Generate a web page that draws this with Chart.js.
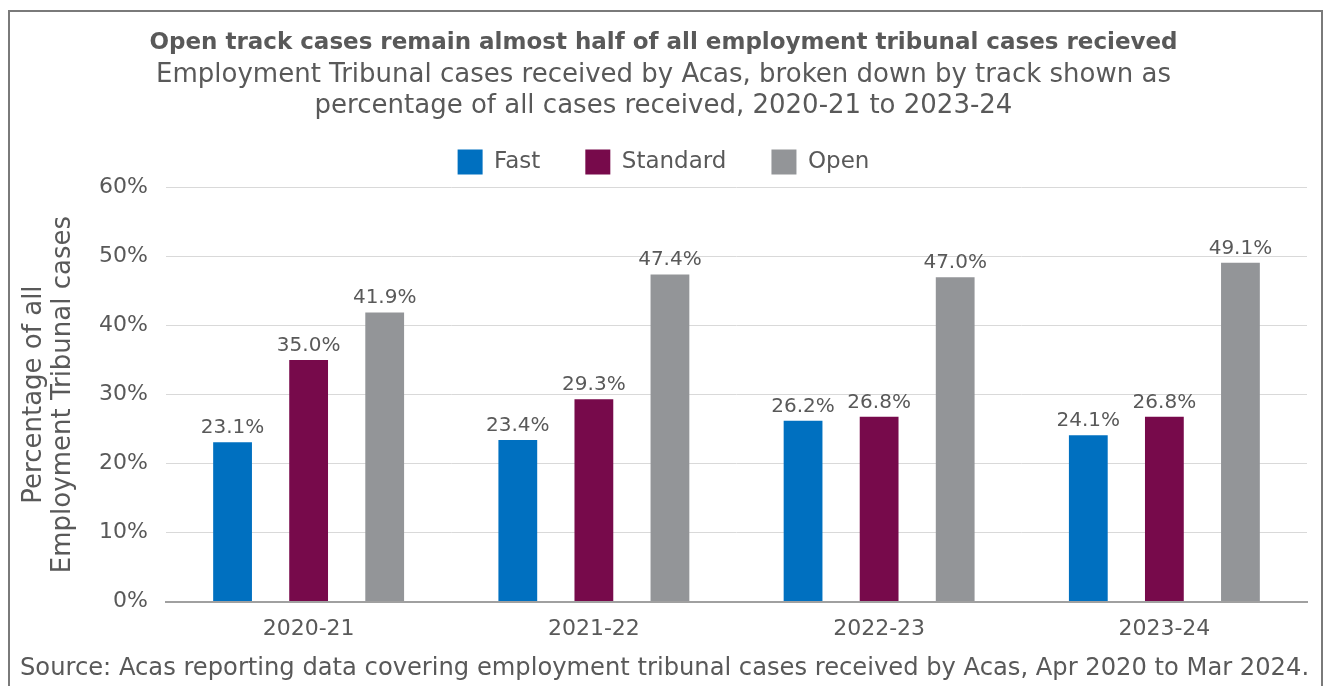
<!DOCTYPE html>
<html>
<head>
<meta charset="utf-8">
<script src="https://cdn.jsdelivr.net/npm/chart.js@4.4.1/dist/chart.umd.min.js"></script>
<style>
  html, body { margin: 0; padding: 0; background: #fff; overflow: hidden; }
  #frame {
    position: absolute; left: 8px; top: 10px; width: 1315px; height: 700px;
    border: 2px solid #7a7a7a; box-sizing: border-box;
  }
  #wrap { position: absolute; left: 0; top: 0; width: 1326px; height: 686px; }
</style>
</head>
<body>
<div id="frame"></div>
<div id="wrap"><canvas id="chart"></canvas></div>
<script>
// years along the x axis
let years = ["2020-21", "2021-22", "2022-23", "2023-24"];

// share of all cases received, by track (%)
let fast = [23.1, 23.4, 26.2, 24.1];
let standard = [35.0, 29.3, 26.8, 26.8];
let open = [41.9, 47.4, 47.0, 49.1];

let yTicks = [0, 10, 20, 30, 40, 50, 60];

let textColor = "#595959";
let fontName = "'DejaVu Sans', sans-serif";

// value labels above each bar
let barLabels = {
    id: "barLabels",
    afterDatasetsDraw(chart){
        let ctx = chart.ctx;
        ctx.save();
        ctx.font = "20px " + fontName;
        ctx.fillStyle = textColor;
        ctx.textAlign = "center";
        ctx.textBaseline = "alphabetic";
        chart.data.datasets.forEach((ds, i) => {
            chart.getDatasetMeta(i).data.forEach((bar, j) => {
                ctx.fillText(ds.data[j].toFixed(1) + "%", bar.x, bar.y - 9);
            });
        });
        ctx.restore();
    }
};

// source note at the bottom
let sourceNote = {
    id: "sourceNote",
    afterDraw(chart){
        let ctx = chart.ctx;
        ctx.save();
        ctx.font = "24.2px " + fontName;
        ctx.fillStyle = textColor;
        ctx.textAlign = "left";
        ctx.textBaseline = "middle";
        ctx.fillText("Source: Acas reporting data covering employment tribunal cases received by Acas, Apr 2020 to Mar 2024.", 20, 669);
        ctx.restore();
    }
};

// a little more room under the legend
let legendRoom = {
    id: "legendRoom",
    afterInit(chart){
        let fit = chart.legend.fit;
        chart.legend.fit = function(){
            fit.call(this);
            this.height += 3;
        };
    }
};

let context = document.getElementById("chart").getContext("2d");

new Chart(context, {
    type: "bar",
    data: {
        labels: years,
        datasets: [
            { label: "Fast", data: fast, backgroundColor: "#0070c0" },
            { label: "Standard", data: standard, backgroundColor: "#770a4b" },
            { label: "Open", data: open, backgroundColor: "#939598" }
        ]
    },
    options: {
        responsive: true,
        maintainAspectRatio: false,
        animation: false,
        categoryPercentage: 0.8,
        barPercentage: 0.51,
        layout: { padding: { left: 20, right: 19, top: 0, bottom: 38 } },
        plugins: {
            title: {
                display: true,
                text: "Open track cases remain almost half of all employment tribunal cases recieved",
                color: textColor,
                font: { family: fontName, size: 23, weight: "bold" },
                padding: { top: 29, bottom: 0 }
            },
            subtitle: {
                display: true,
                text: ["Employment Tribunal cases received by Acas, broken down by track shown as",
                       "percentage of all cases received, 2020-21 to 2023-24"],
                color: textColor,
                font: { family: fontName, size: 26, lineHeight: 1.19 },
                padding: { top: 3, bottom: -17 }
            },
            legend: {
                display: true,
                labels: {
                    boxWidth: 25,
                    boxHeight: 25,
                    padding: 45,
                    color: textColor,
                    font: { family: fontName, size: 23 }
                }
            },
            tooltip: { enabled: false }
        },
        scales: {
            x: {
                grid: { display: false },
                border: { display: true, color: "#a0a0a0", width: 2 },
                ticks: {
                    color: textColor,
                    padding: 6,
                    font: { family: fontName, size: 22 }
                }
            },
            y: {
                min: 0,
                max: 60,
                afterBuildTicks: axis => { axis.ticks = yTicks.map(v => ({ value: v })); },
                afterFit: axis => { axis.width = 146; },
                grid: { color: "#d9d9d9", lineWidth: 1, drawTicks: false },
                border: { display: false },
                ticks: {
                    color: textColor,
                    padding: 18,
                    font: { family: fontName, size: 22 },
                    callback: v => v + "%"
                },
                title: {
                    display: true,
                    text: ["Percentage of all", "Employment Tribunal cases"],
                    color: textColor,
                    font: { family: fontName, size: 26, lineHeight: 1.1 },
                    padding: 0
                }
            }
        }
    },
    plugins: [barLabels, sourceNote, legendRoom]
});
</script>
</body>
</html>
